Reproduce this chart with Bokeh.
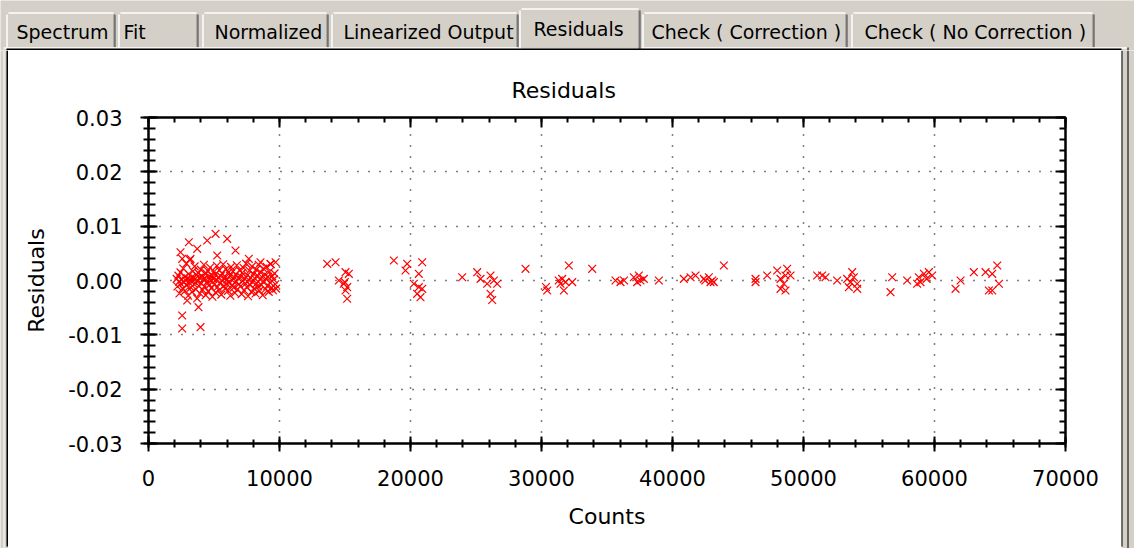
from bokeh.plotting import figure
from bokeh.layouts import column, row
from bokeh.models import Range1d, SingleIntervalTicker, LinearAxis, PrintfTickFormatter
from bokeh.core.properties import value
from bokeh.embed import file_html
from bokeh.resources import INLINE

# ---------------- data ----------------
tab_labels = ["Spectrum", "Fit", "Normalized", "Linearized Output", "Residuals",
              "Check ( Correction )", "Check ( No Correction )"]
selected_tab = "Residuals"

chart_title = "Residuals"
x_label = "Counts"
y_label = "Residuals"

# dense low-count cluster
counts_a = [2150, 2210, 2280, 2330, 2360, 2440, 2470, 2520, 2610, 2650, 2700, 2760, 2790, 2850, 2890, 2920, 2980,
            3030, 3070, 3110, 3160, 3190, 3240, 3300, 3330, 3390, 3420, 3480, 3520, 3570, 3610, 3660, 3710, 3740,
            3790, 3850, 3880, 3940, 3990,
            4030, 4080, 4120, 4170, 4230, 4260, 4310, 4370, 4410, 4460, 4520, 4550, 4600, 4660, 4700, 4740, 4800,
            4850, 4880, 4940, 4990,
            5030, 5090, 5120, 5170, 5220, 5270, 5320, 5380, 5410, 5470, 5510, 5560, 5620, 5650, 5700, 5760, 5800,
            5850, 5910, 5950,
            6010, 6070, 6110, 6160, 6220, 6250, 6300, 6360, 6400, 6450, 6510, 6550, 6600, 6660, 6700, 6740, 6800,
            6850, 6900, 6960,
            7010, 7060, 7110, 7150, 7200, 7260, 7300, 7350, 7410, 7450, 7500, 7560, 7600, 7650, 7710, 7740, 7800,
            7860, 7900, 7950,
            8020, 8070, 8110, 8170, 8220, 8260, 8320, 8370, 8410, 8460, 8520, 8560, 8610, 8670, 8720, 8760, 8810,
            8870, 8920, 8960, 9020, 9070, 9120, 9180, 9230, 9290, 9330, 9390, 9440, 9500, 9560, 9620, 9680, 9740]
resid_a = [0.0003, -0.0011, 0.0009, -0.0002, -0.0024, 0.0015, -0.0006, 0.0001, -0.0015, 0.0022, -0.0003, 0.0007,
           -0.0019, 0.0000, 0.0031, -0.0009, 0.0004,
           -0.0028, 0.0012, -0.0004, 0.0038, 0.0001, -0.0013, 0.0006, -0.0021, 0.0017, -0.0001, -0.0007, 0.0026,
           0.0003, -0.0016, 0.0010, -0.0033, -0.0002, 0.0014, -0.0010, 0.0005, -0.0024, 0.0020,
           -0.0005, 0.0008, -0.0017, 0.0002, 0.0029, -0.0011, 0.0004, -0.0027, 0.0013, -0.0003, 0.0018, -0.0020,
           0.0006, -0.0008, 0.0024, 0.0000, -0.0014, 0.0009, -0.0030, 0.0003, 0.0016,
           -0.0007, 0.0011, -0.0022, 0.0001, 0.0027, -0.0012, 0.0005, -0.0018, 0.0019, -0.0004, 0.0008, -0.0026,
           0.0013, -0.0001, 0.0030, -0.0010, 0.0004, -0.0015, 0.0021, -0.0006,
           0.0002, -0.0019, 0.0015, -0.0003, 0.0009, -0.0028, 0.0025, -0.0009, 0.0000, 0.0017, -0.0013, 0.0006,
           -0.0023, 0.0011, -0.0002, 0.0028, -0.0016, 0.0004, -0.0007, 0.0019,
           -0.0011, 0.0007, -0.0025, 0.0014, -0.0001, 0.0023, -0.0018, 0.0003, -0.0006, 0.0031, -0.0012, 0.0010,
           -0.0029, 0.0001, 0.0018, -0.0008, 0.0005, -0.0021, 0.0026, -0.0003,
           0.0012, -0.0015, 0.0004, -0.0024, 0.0020, -0.0005, 0.0009, -0.0011, 0.0029, -0.0019, 0.0002, 0.0015,
           -0.0008, 0.0006, -0.0027, 0.0022, -0.0002, 0.0011, -0.0016, 0.0003, 0.0025, -0.0010, 0.0007, -0.0021,
           0.0016, -0.0004, 0.0030, -0.0013, 0.0008, -0.0018, 0.0002, 0.0013, -0.0007, -0.0015]

# scattered points of the low-count cluster (above / below the band)
counts_b = [3077, 4481, 5115, 6008, 6642, 2443, 3718, 2573, 3206, 5245, 7657, 8550, 9313, 9700,
            3817, 2573, 2573, 3970, 2954]
resid_b = [0.00705, 0.00736, 0.00859, 0.00767, 0.00552, 0.00521, 0.00583, 0.00399, 0.00399, 0.0046, 0.00399,
           0.00337, 0.00307, 0.00337,
           -0.00491, -0.00644, -0.00883, -0.00859, -0.00368]

# higher-count groups
counts_c = [13640, 14276, 15039, 15293, 14530, 14912, 15166, 15039, 15166, 14980,
            18726, 19745, 20894, 19618, 20633, 20253, 20633, 20894, 20506, 20764,
            23948, 25093, 25345, 26108, 26362, 25856, 26617, 26108, 26236,
            28780,
            30436, 30340, 31313, 32088, 31580, 31834, 32345, 31452, 31706,
            33870,
            35650, 36030, 37048, 37430, 37558, 37300, 37812, 36300, 38957,
            40865, 41376, 41757, 42392, 42774, 43032, 43150, 42901, 43919, 42500,
            46338, 46338, 47226, 47990, 48753, 48627, 48245, 48500, 48245, 48627, 49010,
            51046, 51420, 51680, 52570, 53333, 53720, 53842, 53590, 54100, 53460, 54100,
            56770, 56644, 57915, 58800, 59193, 59570, 58927, 58673, 59823, 59400,
            61606, 61990, 63003, 63897, 64408, 64791, 64408, 64150, 64920]
resid_c = [0.00307, 0.00337, 0.00153, 0.00123, 0.0, -0.0006, -0.00123, -0.00184, -0.00337, -0.0003,
           0.00368, 0.00307, 0.00337, 0.00184, 0.00123, -0.0006, -0.00123, -0.00153, -0.00245, -0.00307,
           0.0006, 0.00153, 0.0003, 0.00092, 0.0, -0.0006, -0.0006, -0.00245, -0.0036,
           0.00215,
           -0.00184, -0.0012, 0.0, 0.00276, 0.0003, -0.0003, -0.0003, -0.0006, -0.00184,
           0.00215,
           0.0, -0.0003, 0.0006, 0.00092, 0.0, -0.0003, 0.0003, 0.0, 0.0,
           0.0003, 0.0006, 0.00092, 0.0003, 0.0006, 0.0, -0.0003, -0.0003, 0.00276, 0.0,
           -0.0003, 0.0003, 0.00092, 0.00184, 0.00215, 0.00092, 0.0003, -0.0006, -0.00153, -0.00184, 0.00092,
           0.00092, 0.00092, 0.0006, 0.0, 0.0003, 0.00153, 0.0006, -0.0003, -0.0006, -0.00123, -0.00153,
           0.0006, -0.00215, 0.0, 0.0006, 0.00123, 0.00153, -0.0003, -0.0006, 0.00092, 0.0003,
           -0.00153, 0.0, 0.00153, 0.00153, 0.00123, 0.00276, -0.00184, -0.00184, -0.0006]

counts = counts_a + counts_b + counts_c
resid = resid_a + resid_b + resid_c

# ---------------- styles ----------------
FONT = "DejaVu Sans"
GRAY = "#d4d0c8"
W = 1134
H = 548
TAB_H = 50
LEFT_W = 8
RIGHT_W = 13
MAIN_W = W - LEFT_W - RIGHT_W
BOT_H = 3
MAIN_H = H - TAB_H - BOT_H


def chrome_fig(width, height, x0, x1, y0, y1):
    f = figure(width=width, height=height, x_range=Range1d(x0, x1), y_range=Range1d(y1, y0),
               output_backend="svg", toolbar_location=None, min_border=0)
    f.axis.visible = False
    f.grid.visible = False
    f.outline_line_color = None
    f.background_fill_color = GRAY
    f.border_fill_color = GRAY
    f.frame_align = False
    return f


# ---------------- tab strip (image coordinates) ----------------
tab_left = [6, 118, 202, 331, 519, 642, 851]
tab_right = [115, 198, 328, 518, 640, 847, 1094]
tab_text_x = [16, 123, 214, 343, 533, 651, 864]

tabs = chrome_fig(W, TAB_H, 0, W, 0, TAB_H)
for lab, l, r, tx in zip(tab_labels, tab_left, tab_right, tab_text_x):
    sel = (lab == selected_tab)
    top = 8 if sel else 12
    bot = 50 if sel else 47
    tabs.quad(left=[l], right=[r], top=[top], bottom=[bot], fill_color=GRAY, line_color=None)
    tabs.segment(x0=[l + 2], y0=[top + 0.5], x1=[r - 2], y1=[top + 0.5], line_color="white", line_width=1.5)
    tabs.segment(x0=[l + 0.5], y0=[top + 2], x1=[l + 0.5], y1=[bot], line_color="white", line_width=1.5)
    tabs.segment(x0=[r - 1.5], y0=[top + 2], x1=[r - 1.5], y1=[bot], line_color="#808080", line_width=1)
    tabs.segment(x0=[r - 0.5], y0=[top + 2], x1=[r - 0.5], y1=[bot], line_color="#404040", line_width=1)
    tabs.text(x=[tx], y=[(28.5 if sel else 31.5)], text=[lab], text_font=value(FONT), text_font_size="19px",
              text_baseline="middle", text_align="left", text_color="black")

# tab page top highlight (broken under selected tab), chart panel top border
tabs.segment(x0=[3, 641], y0=[47.5, 47.5], x1=[518, 1127], y1=[47.5, 47.5], line_color="white", line_width=1.5)
tabs.segment(x0=[1127.5], y0=[47], x1=[1127.5], y1=[50], line_color="#404040", line_width=1.5)
tabs.quad(left=[8], right=[1120], top=[48.5], bottom=[50], fill_color="white", line_color=None)
tabs.segment(x0=[6], y0=[49], x1=[1121], y1=[49], line_color="black", line_width=2)

# ---------------- side strips ----------------
left_strip = chrome_fig(LEFT_W, H - TAB_H, 0, LEFT_W, 0, H - TAB_H)
left_strip.segment(x0=[3.5], y0=[0], x1=[3.5], y1=[H - TAB_H], line_color="white", line_width=1)
left_strip.segment(x0=[7], y0=[0], x1=[7], y1=[H - TAB_H - 2], line_color="black", line_width=2)

right_strip = chrome_fig(RIGHT_W, H - TAB_H, 0, RIGHT_W, 0, H - TAB_H)
right_strip.segment(x0=[0], y0=[0], x1=[0], y1=[H - TAB_H - 2], line_color="black", line_width=2)
right_strip.segment(x0=[6.5], y0=[0], x1=[6.5], y1=[H - TAB_H], line_color="#404040", line_width=1.5)

bottom_strip = chrome_fig(MAIN_W, BOT_H, 0, MAIN_W, 0, BOT_H)
bottom_strip.segment(x0=[0], y0=[0.5], x1=[MAIN_W], y1=[0.5], line_color="black", line_width=2)

# ---------------- main chart ----------------
p = figure(width=MAIN_W, height=MAIN_H, x_range=Range1d(0, 70000), y_range=Range1d(-0.03, 0.03),
           output_backend="svg", toolbar_location=None,
           min_border_left=140, min_border_right=56, min_border_top=67, min_border_bottom=MAIN_H - 393,
           x_axis_label=x_label, y_axis_label=y_label)
p.frame_align = False
p.background_fill_color = "white"
p.border_fill_color = "white"
p.outline_line_color = "black"
p.outline_line_width = 2

p.title.text = chart_title
p.title.text_font = FONT
p.title.text_font_size = "22px"
p.title.text_font_style = "normal"
p.title.text_color = "black"
p.title.align = "left"
p.title.offset = 363
p.title.standoff = 29

xt = SingleIntervalTicker(interval=10000, num_minor_ticks=5)
yt = SingleIntervalTicker(interval=0.01, num_minor_ticks=5)
p.xaxis.ticker = xt
p.yaxis.ticker = yt
p.xaxis.formatter = PrintfTickFormatter(format="%d")
p.yaxis.formatter = PrintfTickFormatter(format="%.2f")

for ax in (p.xaxis[0], p.yaxis[0]):
    ax.axis_line_color = "black"
    ax.axis_line_width = 2
    ax.major_tick_line_color = "black"
    ax.major_tick_line_width = 2
    ax.minor_tick_line_color = "black"
    ax.minor_tick_line_width = 2
    ax.major_label_text_font = FONT
    ax.major_label_text_font_size = "21px"
    ax.major_label_text_color = "black"
    ax.axis_label_text_font = FONT
    ax.axis_label_text_font_size = "22px"
    ax.axis_label_text_font_style = "normal"
    ax.axis_label_text_color = "black"
    ax.major_label_standoff = 18

p.yaxis.major_tick_in = 9
p.yaxis.major_tick_out = 8
p.yaxis.minor_tick_in = 7
p.yaxis.minor_tick_out = 5
p.yaxis.axis_label_standoff = 16
p.xaxis.major_tick_in = 7
p.xaxis.major_tick_out = 8
p.xaxis.minor_tick_in = 4
p.xaxis.minor_tick_out = 4
p.xaxis.axis_label_standoff = 15

top_ax = LinearAxis(ticker=SingleIntervalTicker(interval=10000, num_minor_ticks=5),
                    major_label_text_color=None, major_label_text_font_size="1px", major_label_standoff=0,
                    major_tick_in=10, major_tick_out=0, minor_tick_in=5, minor_tick_out=0,
                    axis_line_width=2, major_tick_line_width=2, minor_tick_line_width=2)
right_ax = LinearAxis(ticker=SingleIntervalTicker(interval=0.01, num_minor_ticks=5),
                      major_label_text_color=None, major_label_text_font_size="1px", major_label_standoff=0,
                      major_tick_in=10, major_tick_out=0, minor_tick_in=6, minor_tick_out=0,
                      axis_line_width=2, major_tick_line_width=2, minor_tick_line_width=2)
p.add_layout(top_ax, "above")
p.add_layout(right_ax, "right")

for g in (p.xgrid[0], p.ygrid[0]):
    g.grid_line_color = "black"
    g.grid_line_width = 1.5
    g.grid_line_dash = "1 10"

p.scatter(counts, resid, marker="x", size=11, line_color="red", line_width=1.2)

middle = column(p, bottom_strip, spacing=0)
body = row(left_strip, middle, right_strip, spacing=0)
layout = column(tabs, body, spacing=0)
open("out.html", "w").write(file_html(layout, INLINE))
